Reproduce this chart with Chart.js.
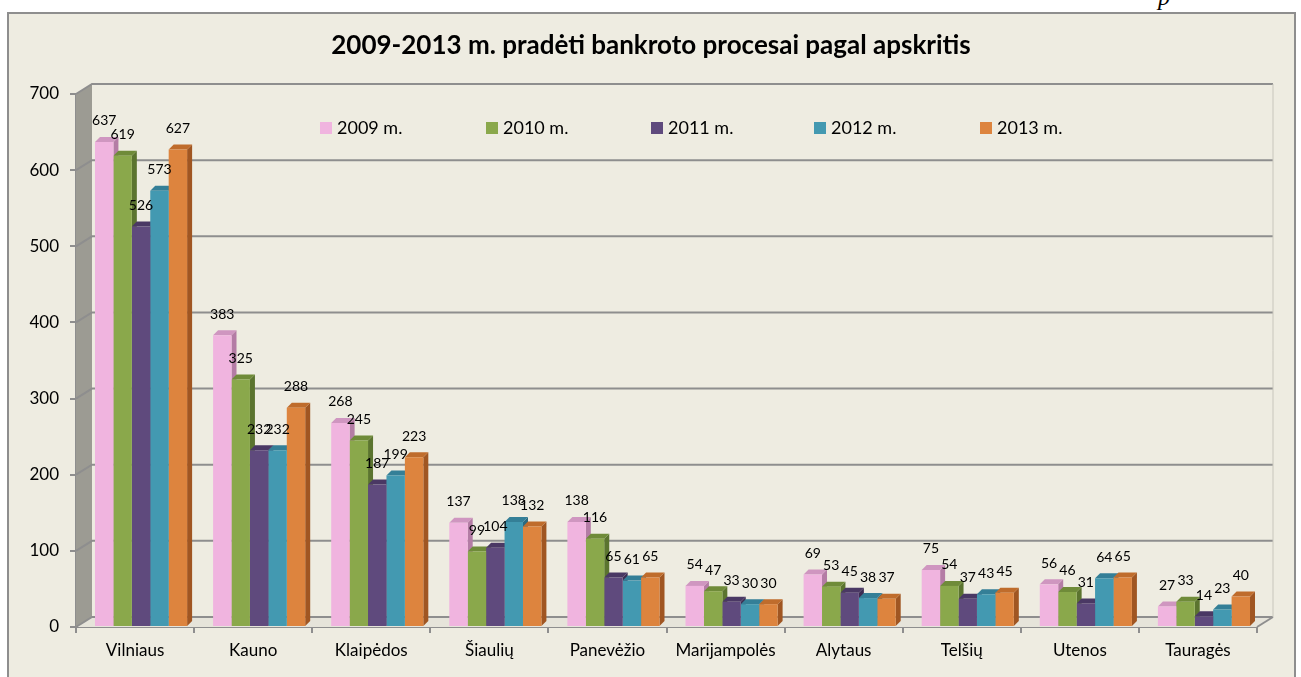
<!DOCTYPE html>
<html>
<head>
    <title>2009-2013 m. pradėti bankroto procesai pagal apskritis</title>
    <style>
        body {
            margin: 0;
            background: #ffffff;
            width: 1301px;
            height: 677px;
            overflow: hidden;
            position: relative;
        }
        .frame {
            position: absolute;
            left: 7px;
            top: 12px;
            width: 1285px;
            height: 700px;
            border: 2px solid #8e8e8e;
            background-color: #EEECE1;
        }
        .page-letter {
            position: absolute;
            left: 1158px;
            top: -16px;
            font-family: 'Liberation Serif', serif;
            font-style: italic;
            font-size: 24px;
        }
        #chart {
            position: absolute;
            left: 0;
            top: 0;
        }
    </style>
</head>
<body>
    <div class="page-letter">p</div>
    <div class="frame"></div>
    <canvas id="chart" width="1301" height="677"></canvas>

    <script src="https://cdn.jsdelivr.net/npm/chart.js"></script>
    <script>
        // Data
        const counties = ['Vilniaus', 'Kauno', 'Klaipėdos', 'Šiaulių', 'Panevėžio', 'Marijampolės', 'Alytaus', 'Telšių', 'Utenos', 'Tauragės'];
        const years = ['2009 m.', '2010 m.', '2011 m.', '2012 m.', '2013 m.'];
        const y2009 = [637, 383, 268, 137, 138, 54, 69, 75, 56, 27];
        const y2010 = [619, 325, 245, 99, 116, 47, 53, 54, 46, 33];
        const y2011 = [526, 232, 187, 104, 65, 33, 45, 37, 31, 14];
        const y2012 = [573, 232, 199, 138, 61, 30, 38, 43, 64, 23];
        const y2013 = [627, 288, 223, 132, 65, 30, 37, 45, 65, 40];
        const yTicks = [0, 100, 200, 300, 400, 500, 600, 700];
        const chartTitle = '2009-2013 m. pradėti bankroto procesai pagal apskritis';

        const fronts = ['#F0B4DF', '#8AA84B', '#5F4A7D', '#4399B1', '#DD843E'];
        const tops = ['#CF96C0', '#6F8B39', '#4A3864', '#347F97', '#BF6C2C'];
        const sides = ['#B47CA5', '#5B742F', '#3D2D53', '#2B6A80', '#A05622'];

        const FONT = 'Lato, "Open Sans", sans-serif';
        const DX = 16, DY = 10;   // wall depth
        const BD = 5;             // bar depth
        const SHIFT = 6;          // bars sit a bit deeper than the front edge

        const walls = {
            id: 'walls',
            afterDatasetsUpdate(chart) {
                chart.data.datasets.forEach((ds, i) => {
                    chart.getDatasetMeta(i).data.forEach(bar => { bar.x += SHIFT; });
                });
            },
            beforeDraw(chart) {
                const ctx = chart.ctx;
                ctx.save();
                ctx.font = 'bold 26px ' + FONT;
                ctx.fillStyle = '#000';
                ctx.textAlign = 'center';
                ctx.textBaseline = 'middle';
                ctx.fillText(chartTitle, 651, 46);
                ctx.restore();
            },
            beforeDatasetsDraw(chart) {
                const ctx = chart.ctx;
                const a = chart.chartArea;
                const y = chart.scales.y;
                ctx.save();
                // left wall
                ctx.fillStyle = '#9c9b93';
                ctx.beginPath();
                ctx.moveTo(a.left, a.top);
                ctx.lineTo(a.left + DX, a.top - DY);
                ctx.lineTo(a.left + DX, a.bottom - DY);
                ctx.lineTo(a.left, a.bottom);
                ctx.closePath();
                ctx.fill();
                // floor
                ctx.fillStyle = '#e6e4da';
                ctx.beginPath();
                ctx.moveTo(a.left, a.bottom);
                ctx.lineTo(a.left + DX, a.bottom - DY);
                ctx.lineTo(a.right + DX, a.bottom - DY);
                ctx.lineTo(a.right, a.bottom);
                ctx.closePath();
                ctx.fill();
                ctx.strokeStyle = '#8e8e8e';
                ctx.lineWidth = 2;
                ctx.beginPath();
                ctx.moveTo(a.right, a.bottom);
                ctx.lineTo(a.right + DX, a.bottom - DY);
                ctx.stroke();
                // back wall grid
                yTicks.forEach(v => {
                    const py = y.getPixelForValue(v);
                    ctx.strokeStyle = '#8e8e8e';
                    ctx.beginPath();
                    ctx.moveTo(a.left, py);
                    ctx.lineTo(a.left + DX, py - DY);
                    ctx.lineTo(a.right + DX, py - DY);
                    ctx.stroke();
                });
                ctx.beginPath();
                ctx.strokeStyle = '#c8c6bc';
                ctx.lineWidth = 1;
                ctx.moveTo(a.right + DX, a.top - DY);
                ctx.lineTo(a.right + DX, a.bottom - DY);
                ctx.stroke();

                // bar tops and sides, drawn before the fronts
                chart.data.datasets.forEach((ds, i) => {
                    chart.getDatasetMeta(i).data.forEach(bar => {
                        const l = bar.x - bar.width / 2, r = bar.x + bar.width / 2;
                        ctx.fillStyle = sides[i];
                        ctx.beginPath();
                        ctx.moveTo(r, bar.y);
                        ctx.lineTo(r + BD, bar.y - BD);
                        ctx.lineTo(r + BD, bar.base - BD);
                        ctx.lineTo(r, bar.base);
                        ctx.closePath();
                        ctx.fill();
                        ctx.fillStyle = tops[i];
                        ctx.beginPath();
                        ctx.moveTo(l, bar.y);
                        ctx.lineTo(l + BD, bar.y - BD);
                        ctx.lineTo(r + BD, bar.y - BD);
                        ctx.lineTo(r, bar.y);
                        ctx.closePath();
                        ctx.fill();
                    });
                });
                ctx.restore();
            },
            afterDatasetsDraw(chart) {
                const ctx = chart.ctx;
                ctx.save();
                ctx.font = '14px ' + FONT;
                ctx.fillStyle = '#000';
                ctx.textAlign = 'center';
                ctx.textBaseline = 'middle';
                chart.data.datasets.forEach((ds, i) => {
                    chart.getDatasetMeta(i).data.forEach((bar, j) => {
                        ctx.fillText(ds.data[j], bar.x, bar.y - 21);
                    });
                });
                // legend inside the plot
                const lx = [320, 486, 651, 814, 980];
                ctx.font = '18px ' + FONT;
                ctx.textAlign = 'left';
                years.forEach((yr, i) => {
                    ctx.fillStyle = fronts[i];
                    ctx.fillRect(lx[i], 122, 12, 12);
                    ctx.fillStyle = '#000';
                    ctx.fillText(yr, lx[i] + 17, 128);
                });
                ctx.restore();
            }
        };

        const series = [y2009, y2010, y2011, y2012, y2013];

        new Chart(document.getElementById('chart'), {
            type: 'bar',
            data: {
                labels: counties,
                datasets: series.map((d, i) => ({
                    label: years[i],
                    data: d,
                    backgroundColor: fronts[i],
                    borderWidth: 0,
                    categoryPercentage: 0.78,
                    barPercentage: 1.0
                }))
            },
            options: {
                responsive: false,
                animation: false,
                layout: { padding: { left: 0, right: 44, top: 94, bottom: 0 } },
                plugins: {
                    legend: { display: false },
                    tooltip: { enabled: false },
                    title: { display: false }
                },
                scales: {
                    x: {
                        afterFit: s => { s.height = 50; },
                        grid: { offset: true, drawOnChartArea: false, drawTicks: true, tickLength: 6, color: '#8e8e8e', lineWidth: 2 },
                        border: { color: '#8e8e8e', width: 2 },
                        ticks: { color: '#000', padding: 7, font: { family: FONT, size: 17 } }
                    },
                    y: {
                        min: 0,
                        max: 700,
                        afterFit: s => { s.width = 76; },
                        grid: { drawOnChartArea: false, drawTicks: true, tickLength: 6, color: '#8e8e8e', lineWidth: 2 },
                        border: { color: '#8e8e8e', width: 2 },
                        ticks: { stepSize: 100, color: '#000', padding: 11, font: { family: FONT, size: 17 } }
                    }
                }
            },
            plugins: [walls]
        });
    </script>
</body>
</html>
